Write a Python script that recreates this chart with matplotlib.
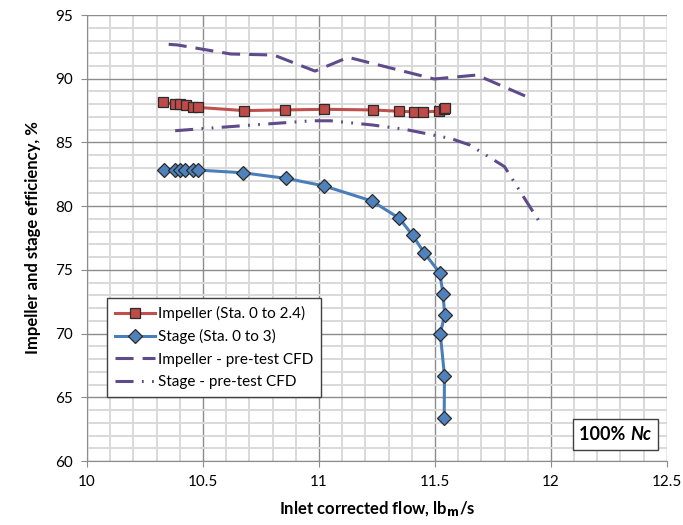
import matplotlib
matplotlib.use('Agg')
import matplotlib.pyplot as plt
from matplotlib.ticker import MultipleLocator
from matplotlib.offsetbox import TextArea, HPacker, AnchoredOffsetbox

plt.rcParams['font.family'] = ['Lato', 'DejaVu Sans']
plt.rcParams['mathtext.default'] = 'regular'
plt.rcParams['lines.scale_dashes'] = False

# measured impeller efficiency (Sta. 0 to 2.4)
imp_x = [10.327, 10.38, 10.40, 10.427, 10.458, 10.478, 10.676, 10.855, 11.023,
         11.233, 11.343, 11.411, 11.45, 11.518, 11.537, 11.542]
imp_y = [88.15, 88.0, 88.0, 87.9, 87.8, 87.75, 87.5, 87.55, 87.6,
         87.55, 87.45, 87.4, 87.4, 87.45, 87.6, 87.7]

# measured stage efficiency (Sta. 0 to 3)
stg_x = [10.33, 10.38, 10.40, 10.424, 10.457, 10.48, 10.672, 10.858, 11.02,
         11.229, 11.347, 11.404, 11.454, 11.521, 11.535, 11.542, 11.523, 11.541, 11.54]
stg_y = [82.86, 82.83, 82.83, 82.83, 82.83, 82.83, 82.62, 82.18, 81.6,
         80.4, 79.04, 77.7, 76.33, 74.76, 73.1, 71.46, 70.0, 66.7, 63.4]

# pre-test CFD
cfd_imp_x = [10.352, 10.39, 10.62, 10.805, 10.983, 11.126, 11.497, 11.68, 11.89]
cfd_imp_y = [92.7, 92.65, 91.94, 91.86, 90.6, 91.68, 89.98, 90.29, 88.64]
cfd_stg_x = [10.38, 10.46, 10.7, 10.97, 11.05, 11.23, 11.37, 11.57, 11.65, 11.80, 11.89, 11.96]
cfd_stg_y = [85.92, 86.03, 86.35, 86.7, 86.7, 86.37, 86.03, 85.3, 84.8, 83.1, 80.5, 78.5]

fig = plt.figure(figsize=(6.83, 5.25), dpi=100)
ax = fig.add_axes([0.1274, 0.1219, 0.849, 0.8495])

purple = '#5F4A8B'
ax.plot(imp_x, imp_y, color='#C0504D', lw=2.2, marker='s', ms=7,
        mfc='#BE4B48', mec='#2b2b2b', mew=0.9, label='Impeller (Sta. 0 to 2.4)', zorder=5)
ax.plot(stg_x, stg_y, color='#4A7EBB', lw=2.2, marker='D', ms=7,
        mfc='#4F81BD', mec='#2b2b2b', mew=0.9, label='Stage (Sta. 0 to 3)', zorder=5)
ax.plot(cfd_imp_x, cfd_imp_y, color=purple, lw=2.2, dashes=(13, 6.5),
        label='Impeller - pre-test CFD', zorder=4)
ax.plot(cfd_stg_x, cfd_stg_y, color=purple, lw=2.2,
        dashes=(13, 6, 1.3, 6, 1.3, 6), label='Stage - pre-test CFD', zorder=4)

ax.set_xlim(10, 12.5)
ax.set_ylim(60, 95)
ax.xaxis.set_major_locator(MultipleLocator(0.5))
ax.xaxis.set_minor_locator(MultipleLocator(0.1))
ax.yaxis.set_major_locator(MultipleLocator(5))
ax.yaxis.set_minor_locator(MultipleLocator(1))
ax.grid(which='minor', color='#d9d9d9', lw=1.4)
ax.grid(which='major', color='#8c8c8c', lw=1.0)
ax.set_axisbelow(True)
for s in ['top', 'right']:
    ax.spines[s].set_visible(False)
for s in ['left', 'bottom']:
    ax.spines[s].set_color('#8c8c8c')
ax.tick_params(which='major', length=4, color='#8c8c8c', labelsize=11, pad=6)
ax.tick_params(which='minor', length=0)
ax.xaxis.set_major_formatter(plt.FuncFormatter(lambda v, p: ('%g' % v)))

ax.set_xlabel(r'Inlet corrected flow, lb$_{\mathbf{m}}$/s', fontsize=12, fontweight='bold', labelpad=8)
ax.set_ylabel('Impeller and stage efficiency, %', fontsize=12, fontweight='bold', labelpad=10)

leg = ax.legend(loc='upper left', bbox_to_anchor=(0.035, 0.365), fontsize=11,
                frameon=True, fancybox=False, borderpad=0.5, handlelength=2.6,
                handletextpad=0.2, labelspacing=0.55, borderaxespad=0)
leg.get_frame().set_edgecolor('#404040')
leg.get_frame().set_linewidth(1.0)
leg.get_frame().set_alpha(1)

t1 = TextArea('100% ', textprops=dict(fontsize=13, fontweight='bold'))
t2 = TextArea('Nc', textprops=dict(fontsize=13, fontweight='bold', style='italic'))
box = HPacker(children=[t1, t2], pad=0, sep=0)
ab = AnchoredOffsetbox(loc='lower right', child=box, pad=0.5, frameon=True,
                       bbox_to_anchor=(0.985, 0.025), bbox_transform=ax.transAxes, borderpad=0)
ab.patch.set_edgecolor('#404040')
ab.patch.set_linewidth(1.0)
ab.patch.set_boxstyle('square', pad=0)
ax.add_artist(ab)

fig.savefig('out.png', dpi=100)
